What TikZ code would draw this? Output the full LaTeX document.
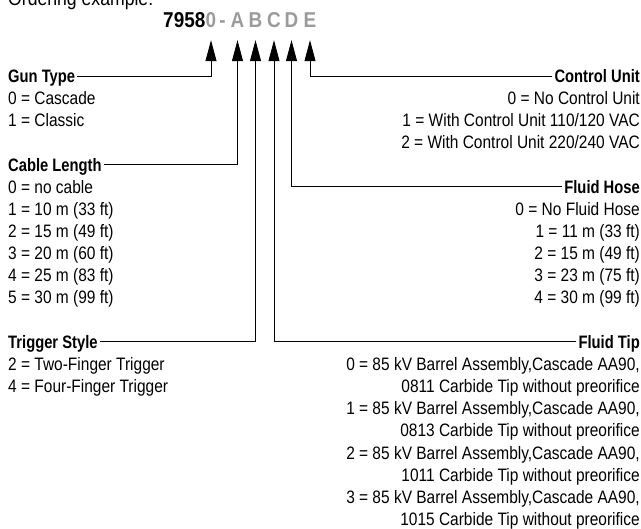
\documentclass[tikz,border=0pt]{standalone}
\usepackage{fontspec}
\setmainfont[FakeStretch=0.86]{Liberation Sans}
\newfontfamily\headfont[FakeStretch=0.82]{Liberation Sans}
\newfontfamily\codefont[FakeStretch=0.88]{Liberation Sans}
\usetikzlibrary{arrows.meta}
\definecolor{codegray}{RGB}{155,155,155}

\begin{document}
\begin{tikzpicture}[x=1pt, y=-1pt,
	every node/.style={inner sep=0pt, font=\fontsize{18}{22.15}\selectfont},
	head/.style={font=\headfont\bfseries\fontsize{18}{22.15}\selectfont, inner xsep=2pt, text height=13pt, text depth=0pt},
	digit/.style={font=\codefont\bfseries\fontsize{21.5}{24}\selectfont, text=codegray, text height=15.5pt, text depth=0pt},
	pointer/.style={line width=0.8pt, -{Triangle[length=21pt, width=11pt]}, shorten >=12pt}]
	\useasboundingbox (0,0) rectangle (641,529);
	% order code
	\node[anchor = base west, font = \fontsize{20.5}{24}\selectfont] at (8, 6) (title) {Ordering example:};
	\node[digit, anchor = base] at (211, 28) (d0) {0};
	\node[digit, anchor = base east, text = black] at (d0.base west) (num) {7958};
	\node[digit, anchor = base] at (222.5, 28) (dash) {-};
	\node[digit, anchor = base] at (237.5, 28) (dA) {A};
	\node[digit, anchor = base] at (255.5, 28) (dB) {B};
	\node[digit, anchor = base] at (274, 28) (dC) {C};
	\node[digit, anchor = base] at (291.5, 28) (dD) {D};
	\node[digit, anchor = base] at (310, 28) (dE) {E};
	% left column (lists sit on their last baseline)
	\node[head, anchor = base west] at (6, 82.5) (gun) {Gun Type};
	\node[anchor = base west, align = left] at (8, 126.8) (gunlist) {0 = Cascade\\1 = Classic};
	\node[head, anchor = base west] at (6, 171.1) (cable) {Cable Length};
	\node[anchor = base west, align = left] at (8, 304) (cablelist) {0 = no cable\\1 = 10 m (33 ft)\\2 = 15 m (49 ft)\\3 = 20 m (60 ft)\\4 = 25 m (83 ft)\\5 = 30 m (99 ft)};
	\node[head, anchor = base west] at (6, 348.3) (trigger) {Trigger Style};
	\node[anchor = base west, align = left] at (8, 392.6) (triggerlist) {2 = Two-Finger Trigger\\4 = Four-Finger Trigger};
	% right column
	\node[head, anchor = base east] at (642, 82.5) (control) {Control Unit};
	\node[anchor = base east, align = right] at (640, 148.95) (controllist) {0 = No Control Unit\\1 = With Control Unit 110/120 VAC\\2 = With Control Unit 220/240 VAC};
	\node[head, anchor = base east] at (642, 193.25) (hose) {Fluid Hose};
	\node[anchor = base east, align = right] at (640, 304) (hoselist) {0 = No Fluid Hose\\1 = 11 m (33 ft)\\2 = 15 m (49 ft)\\3 = 23 m (75 ft)\\4 = 30 m (99 ft)};
	\node[head, anchor = base east] at (642, 348.3) (tip) {Fluid Tip};
	\node[anchor = base east, align = right] at (640, 525.5) (tiplist) {0 = 85 kV Barrel Assembly,Cascade AA90,\\0811 Carbide Tip without preorifice\\1 = 85 kV Barrel Assembly,Cascade AA90,\\0813 Carbide Tip without preorifice\\2 = 85 kV Barrel Assembly,Cascade AA90,\\1011 Carbide Tip without preorifice\\3 = 85 kV Barrel Assembly,Cascade AA90,\\1015 Carbide Tip without preorifice};
	% pointers
	\draw[pointer] (gun.east) -| (d0.south);
	\draw[pointer] (cable.east) -| (dA.south);
	\draw[pointer] (trigger.east) -| (dB.south);
	\draw[pointer] (tip.west) -| (dC.south);
	\draw[pointer] (hose.west) -| (dD.south);
	\draw[pointer] (control.west) -| (dE.south);
\end{tikzpicture}
\end{document}
